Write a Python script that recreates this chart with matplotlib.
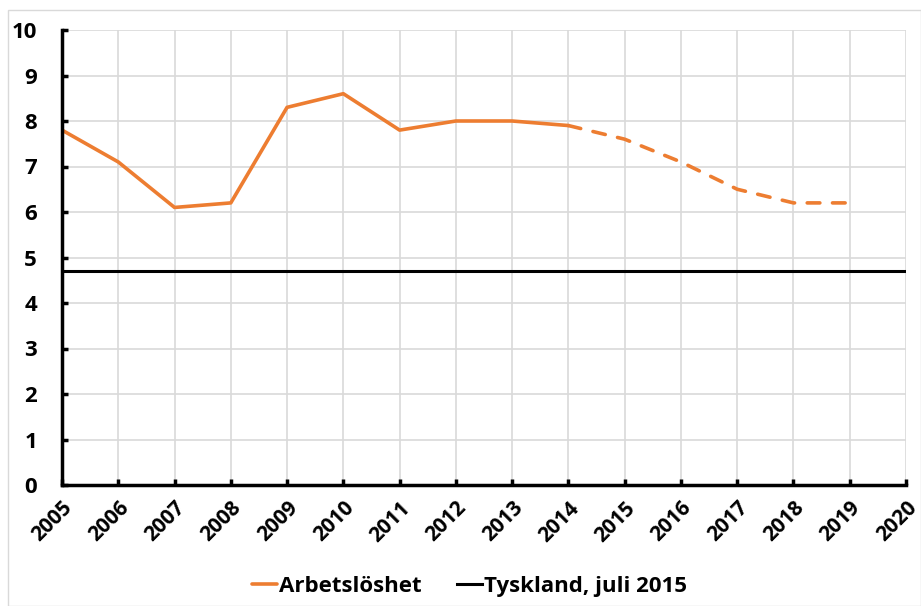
import matplotlib.pyplot as plt
from matplotlib.patches import Rectangle

# Data
years_hist = [2005, 2006, 2007, 2008, 2009, 2010, 2011, 2012, 2013, 2014]
unemp_hist = [7.8, 7.1, 6.1, 6.2, 8.3, 8.6, 7.8, 8.0, 8.0, 7.9]
years_prog = [2014, 2015, 2016, 2017, 2018, 2019]
unemp_prog = [7.9, 7.6, 7.1, 6.5, 6.2, 6.2]
germany_level = 4.7
germany_span = [2005, 2020]
x_ticks = list(range(2005, 2021))
y_ticks = list(range(0, 11))

orange = '#ed7d31'

plt.rcParams['font.family'] = ['Open Sans', 'DejaVu Sans']
plt.rcParams['font.weight'] = 'bold'

fig = plt.figure(figsize=(9.21, 6.06), dpi=100)
ax = fig.add_axes([62 / 921, 1 - 485 / 606, (906 - 62) / 921, (485 - 30) / 606])

# light frame round the chart
fig.patches.append(Rectangle((8 / 921, 0), 1 - 8 / 921, 1 - 10 / 606,
                             transform=fig.transFigure, fill=False,
                             edgecolor='#d9d9d9', linewidth=1))

ax.plot(years_hist, unemp_hist, color=orange, linewidth=2.6,
        solid_capstyle='round', label='Arbetslöshet')
ax.plot(years_prog, unemp_prog, color=orange, linewidth=2.6,
        linestyle=(0, (3.5, 3.5)), dash_capstyle='round')
ax.plot(germany_span, [germany_level, germany_level], color='black',
        linewidth=2.2, label='Tyskland, juli 2015')

ax.set_xlim(2005, 2020)
ax.set_ylim(0, 10)
ax.set_xticks(x_ticks)
ax.set_yticks(y_ticks)
ax.set_xticklabels(x_ticks, rotation=45, ha='right', va='top',
                   rotation_mode='anchor', fontsize=15, fontweight='bold')
ax.set_yticklabels(y_ticks, fontsize=16, fontweight='bold')

ax.grid(color='#d9d9d9', linewidth=1.2)
ax.set_axisbelow(True)
for side in ['top', 'right']:
    ax.spines[side].set_visible(False)
for side in ['left', 'bottom']:
    ax.spines[side].set_linewidth(2.5)
ax.tick_params(direction='in', length=4, width=2.5)
ax.tick_params(axis='y', pad=18)
ax.tick_params(axis='x', pad=9)

ax.legend(loc='center', bbox_to_anchor=(0.483, -0.222), ncol=2,
          frameon=False, fontsize=16, handlelength=1.1, handletextpad=0.1,
          columnspacing=1.6)

fig.savefig('out.png', dpi=100)
